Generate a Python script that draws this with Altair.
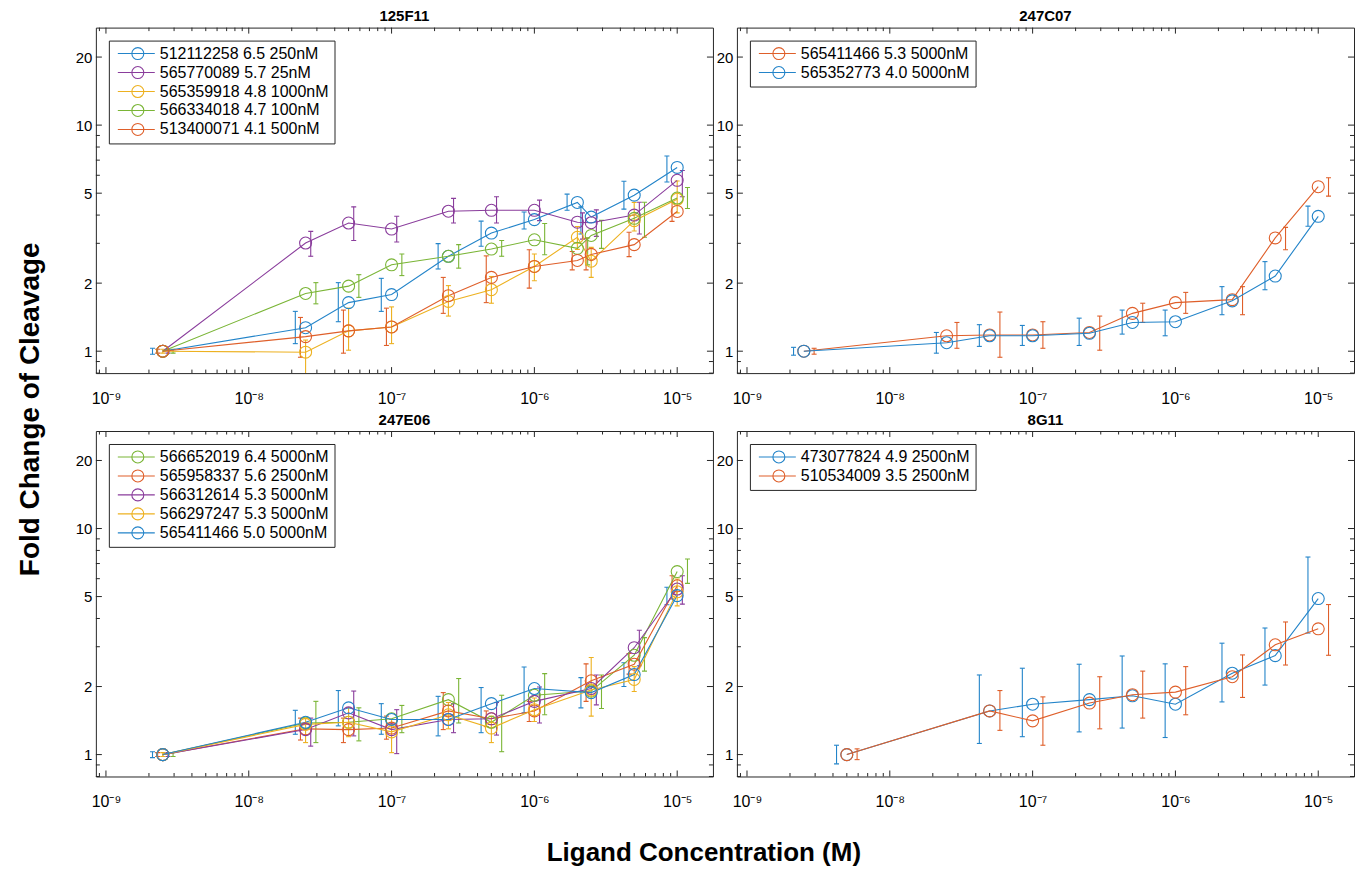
import altair as alt
import pandas as pd

FONT = "Liberation Sans"

# ---------------- data ----------------
X_125F11 = [2.5e-9, 2.5e-8, 5e-8, 1e-7, 2.5e-7, 5e-7, 1e-6, 2e-6, 2.5e-6, 5e-6, 1e-5]
S_512112258_Y = [1.00, 1.27, 1.64, 1.78, 2.63, 3.33, 3.82, 4.55, 3.92, 4.90, 6.50]
S_512112258_LO = [0.97, 1.08, 1.35, 1.50, 2.31, 2.91, 3.47, 4.20, 3.30, 4.25, 5.60]
S_512112258_HI = [1.03, 1.50, 2.01, 2.10, 2.99, 3.76, 4.13, 4.95, 4.35, 5.65, 7.30]
S_565770089_Y = [1.00, 3.01, 3.69, 3.47, 4.16, 4.20, 4.20, 3.72, 3.70, 4.00, 5.70]
S_565770089_LO = [0.98, 2.63, 3.09, 3.04, 3.69, 3.69, 3.78, 3.13, 3.22, 3.30, 4.82]
S_565770089_HI = [1.02, 3.39, 4.35, 3.95, 4.74, 4.82, 4.66, 4.09, 4.22, 4.56, 6.30]
S_565359918_Y = [1.00, 0.99, 1.23, 1.28, 1.66, 1.87, 2.37, 3.19, 2.50, 3.78, 4.70]
S_565359918_LO = [0.98, 0.70, 1.01, 1.08, 1.43, 1.63, 2.05, 2.82, 2.12, 3.40, 4.09]
S_565359918_HI = [1.02, 1.12, 1.55, 1.57, 1.95, 2.14, 2.69, 3.56, 2.88, 4.55, 5.66]
S_566334018_Y = [1.00, 1.80, 1.94, 2.41, 2.63, 2.83, 3.11, 2.85, 3.25, 3.87, 4.76]
S_566334018_LO = [0.98, 1.62, 1.73, 2.16, 2.33, 2.63, 2.67, 2.41, 2.85, 3.19, 4.28]
S_566334018_HI = [1.02, 2.01, 2.18, 2.69, 2.96, 3.09, 3.67, 3.17, 3.79, 4.56, 5.30]
S_513400071_Y = [1.00, 1.16, 1.23, 1.28, 1.76, 2.12, 2.37, 2.52, 2.68, 2.96, 4.15]
S_513400071_LO = [0.98, 0.94, 0.98, 1.06, 1.47, 1.64, 1.90, 2.29, 2.29, 2.62, 3.75]
S_513400071_HI = [1.02, 1.41, 1.52, 1.55, 2.12, 2.64, 2.81, 2.76, 3.16, 3.36, 4.56]

X_247C07 = [2.5e-9, 2.5e-8, 5e-8, 1e-7, 2.5e-7, 5e-7, 1e-6, 2.5e-6, 5e-6, 1e-5]
S_565411466a_Y = [1.00, 1.17, 1.18, 1.18, 1.21, 1.47, 1.64, 1.69, 3.17, 5.34]
S_565411466a_LO = [0.97, 1.03, 0.94, 1.03, 1.01, 1.34, 1.47, 1.45, 2.81, 4.85]
S_565411466a_HI = [1.03, 1.34, 1.49, 1.35, 1.43, 1.63, 1.82, 1.93, 3.53, 5.85]
S_565352773_Y = [1.00, 1.09, 1.17, 1.17, 1.20, 1.34, 1.35, 1.67, 2.15, 3.95]
S_565352773_LO = [0.96, 0.98, 1.05, 1.06, 1.06, 1.19, 1.17, 1.45, 1.87, 3.57]
S_565352773_HI = [1.04, 1.21, 1.31, 1.30, 1.40, 1.52, 1.52, 1.93, 2.49, 4.38]

X_247E06 = [2.5e-9, 2.5e-8, 5e-8, 1e-7, 2.5e-7, 5e-7, 1e-6, 2.5e-6, 5e-6, 1e-5]
S_566652019_Y = [1.00, 1.38, 1.39, 1.44, 1.75, 1.39, 1.83, 1.91, 2.75, 6.45]
S_566652019_LO = [0.98, 1.13, 1.15, 1.25, 1.38, 1.03, 1.50, 1.60, 2.34, 5.72]
S_566652019_HI = [1.02, 1.72, 1.61, 1.65, 2.17, 1.83, 2.28, 2.25, 3.29, 7.33]
S_565958337_Y = [1.00, 1.30, 1.29, 1.31, 1.56, 1.44, 1.56, 2.12, 2.51, 5.58]
S_565958337_LO = [0.98, 1.16, 1.13, 1.17, 1.29, 1.33, 1.40, 1.72, 2.27, 4.88]
S_565958337_HI = [1.02, 1.45, 1.45, 1.48, 1.88, 1.56, 1.72, 2.52, 2.80, 6.18]
S_566312614_Y = [1.00, 1.29, 1.53, 1.29, 1.43, 1.44, 1.72, 1.96, 2.97, 5.40]
S_566312614_LO = [0.98, 1.09, 1.21, 1.01, 1.25, 1.22, 1.38, 1.66, 2.47, 4.63]
S_566312614_HI = [1.02, 1.45, 1.91, 1.58, 1.68, 1.70, 1.99, 2.25, 3.55, 6.18]
S_566297247_Y = [1.00, 1.36, 1.39, 1.26, 1.50, 1.31, 1.58, 1.93, 2.15, 5.25]
S_566297247_LO = [0.98, 1.13, 1.20, 1.02, 1.30, 1.13, 1.40, 1.48, 1.90, 4.55]
S_566297247_HI = [1.02, 1.45, 1.61, 1.43, 1.70, 1.48, 1.78, 2.69, 2.45, 5.98]
S_565411466b_Y = [1.00, 1.39, 1.61, 1.43, 1.43, 1.68, 1.96, 1.88, 2.26, 5.05]
S_565411466b_LO = [0.97, 1.23, 1.34, 1.23, 1.21, 1.25, 1.53, 1.61, 2.00, 4.60]
S_565411466b_HI = [1.03, 1.57, 1.92, 1.68, 1.81, 1.98, 2.44, 2.19, 2.55, 5.50]

X_8G11 = [5e-9, 5e-8, 1e-7, 2.5e-7, 5e-7, 1e-6, 2.5e-6, 5e-6, 1e-5]
S_473077824_Y = [1.00, 1.56, 1.67, 1.75, 1.82, 1.67, 2.29, 2.74, 4.90]
S_473077824_LO = [0.91, 1.12, 1.20, 1.26, 1.31, 1.19, 1.71, 2.03, 3.45]
S_473077824_HI = [1.10, 2.25, 2.41, 2.51, 2.73, 2.52, 3.11, 3.63, 7.48]
S_510534009_Y = [1.00, 1.56, 1.41, 1.69, 1.84, 1.89, 2.21, 3.06, 3.60]
S_510534009_LO = [0.95, 1.28, 1.10, 1.30, 1.45, 1.50, 1.79, 2.49, 2.75]
S_510534009_HI = [1.06, 1.92, 1.80, 2.21, 2.34, 2.45, 2.76, 3.86, 4.61]

X_TICKS = [1e-9, 1e-8, 1e-7, 1e-6, 1e-5]
Y_TICKS = [1, 2, 5, 10, 20]
Y_MINOR = [0.8, 0.9, 3, 4, 6, 7, 8, 9]
X_MINOR = [k * 10.0 ** d for d in range(-10, -4) for k in range(2, 10)]

# ---------------- style ----------------
BLUE, ORANGE, YELLOW, PURPLE, GREEN = "#2384c9", "#df5f2a", "#EDB120", "#8a3d9c", "#7ab536"
XMIN, XMAX = 8.5e-10, 1.78e-5
YMIN, YMAX = 0.8, 27.0
W, H = 618, 346
DODGE = 0.036  # decades per slot for error-bar offset

PANELS = [
    ("125F11", X_125F11, [
        ("512112258 6.5 250nM", BLUE, -2, S_512112258_Y, S_512112258_LO, S_512112258_HI),
        ("565770089 5.7 25nM", PURPLE, 1, S_565770089_Y, S_565770089_LO, S_565770089_HI),
        ("565359918 4.8 1000nM", YELLOW, 0, S_565359918_Y, S_565359918_LO, S_565359918_HI),
        ("566334018 4.7 100nM", GREEN, 2, S_566334018_Y, S_566334018_LO, S_566334018_HI),
        ("513400071 4.1 500nM", ORANGE, -1, S_513400071_Y, S_513400071_LO, S_513400071_HI),
    ]),
    ("247C07", X_247C07, [
        ("565411466 5.3 5000nM", ORANGE, 2, S_565411466a_Y, S_565411466a_LO, S_565411466a_HI),
        ("565352773 4.0 5000nM", BLUE, -2, S_565352773_Y, S_565352773_LO, S_565352773_HI),
    ]),
    ("247E06", X_247E06, [
        ("566652019 6.4 5000nM", GREEN, 2, S_566652019_Y, S_566652019_LO, S_566652019_HI),
        ("565958337 5.6 2500nM", ORANGE, -1, S_565958337_Y, S_565958337_LO, S_565958337_HI),
        ("566312614 5.3 5000nM", PURPLE, 1, S_566312614_Y, S_566312614_LO, S_566312614_HI),
        ("566297247 5.3 5000nM", YELLOW, 0, S_566297247_Y, S_566297247_LO, S_566297247_HI),
        ("565411466 5.0 5000nM", BLUE, -2, S_565411466b_Y, S_565411466b_LO, S_565411466b_HI),
    ]),
    ("8G11", X_8G11, [
        ("473077824 4.9 2500nM", BLUE, -2, S_473077824_Y, S_473077824_LO, S_473077824_HI),
        ("510534009 3.5 2500nM", ORANGE, 2, S_510534009_Y, S_510534009_LO, S_510534009_HI),
    ]),
]

LEG_PATH = "M-0.67,0L5.5,0M3.67,0A1,1,0,1,1,1.67,0A1,1,0,1,1,3.67,0"

xscale = alt.Scale(type="log", domain=[XMIN, XMAX], nice=False)
yscale = alt.Scale(type="log", domain=[YMIN, YMAX], nice=False)
X_LABEL_EXPR = ("datum.value < 5e-9 ? '10⁻⁹' : datum.value < 5e-8 ? '10⁻⁸' : "
                "datum.value < 5e-7 ? '10⁻⁷' : datum.value < 5e-6 ? '10⁻⁶' : '10⁻⁵'")
xaxis = alt.Axis(values=X_TICKS, labelExpr=X_LABEL_EXPR, ticks=False, domain=False, grid=False,
                 labelFont=FONT, labelFontSize=16, labelColor="#000000", labelPadding=17,
                 labelFlush=False)
yaxis = alt.Axis(values=Y_TICKS, format="d", ticks=False, domain=False, grid=False,
                 labelFont=FONT, labelFontSize=15, labelColor="#000000", labelPadding=4)


def X(field):
    return alt.X(f"{field}:Q", scale=xscale, axis=xaxis, title=None)


def Y(field):
    return alt.Y(f"{field}:Q", scale=yscale, axis=yaxis, title=None)


def tick_layers():
    layers = []
    frame = "#262626"
    for vals, ln in ((X_TICKS, 6), (X_MINOR, 3.5)):
        d = pd.DataFrame({"v": [v for v in vals if XMIN <= v <= XMAX]})
        base = alt.Chart(d).mark_rule(color=frame, strokeWidth=1)
        layers.append(base.encode(x=X("v"), y=alt.value(H), y2=alt.value(H - ln)))
        layers.append(base.encode(x=X("v"), y=alt.value(0), y2=alt.value(ln)))
    for vals, ln in ((Y_TICKS, 6), (Y_MINOR, 4)):
        d = pd.DataFrame({"v": vals})
        base = alt.Chart(d).mark_rule(color=frame, strokeWidth=1)
        layers.append(base.encode(y=Y("v"), x=alt.value(0), x2=alt.value(ln)))
        layers.append(base.encode(y=Y("v"), x=alt.value(W), x2=alt.value(W - ln)))
    return layers


def make_panel(title, xs, series):
    rows = []
    for label, color, slot, ys, los, his in series:
        for xv, yv, lo, hi in zip(xs, ys, los, his):
            rows.append(dict(series=label, x=xv, y=yv, lo=lo, hi=hi,
                             xe=xv * 10 ** (slot * DODGE)))
    df = pd.DataFrame(rows)
    names = [s[0] for s in series]
    colors = [s[1] for s in series]
    cscale = alt.Scale(domain=names, range=colors)
    legend = alt.Legend(title=None, orient="top-left", offset=13, padding=5,
                        strokeColor="#262626", fillColor="white", cornerRadius=0,
                        labelFont=FONT, labelFontSize=16, labelColor="#000000",
                        labelLimit=500, symbolType=LEG_PATH, symbolSize=144,
                        symbolStrokeWidth=1.1, symbolFillColor="transparent",
                        labelOffset=30, rowPadding=1)
    color = alt.Color("series:N", scale=cscale, legend=legend)
    base = alt.Chart(df)
    err = base.mark_rule(strokeWidth=1.1, clip=True).encode(x=X("xe"), y=Y("lo"), y2="hi:Q", color=color)
    cap_lo = base.mark_point(shape="stroke", filled=False, size=25, strokeWidth=1.1, opacity=1,
                             clip=True).encode(x=X("xe"), y=Y("lo"), color=color)
    cap_hi = base.mark_point(shape="stroke", filled=False, size=25, strokeWidth=1.1, opacity=1,
                             clip=True).encode(x=X("xe"), y=Y("hi"), color=color)
    line = base.mark_line(strokeWidth=1.1, clip=True).encode(x=X("x"), y=Y("y"), color=color)
    pts = base.mark_point(filled=False, size=144, strokeWidth=1.1, opacity=1, clip=True).encode(
        x=X("x"), y=Y("y"), color=color)
    layers = tick_layers() + [err, cap_lo, cap_hi, line, pts]
    return alt.layer(*layers).properties(
        width=W, height=H,
        title=alt.Title(title, font=FONT, fontSize=15, fontWeight="bold", color="#000000", offset=3),
    )


p = [make_panel(*pp) for pp in PANELS]
grid = alt.concat(*p, columns=2, spacing={"row": 58, "column": 24}, bounds="flush").resolve_scale(
    color="independent").properties(
    title=alt.Title("Fold Change of Cleavage", orient="left", anchor="middle", font=FONT,
                    fontSize=28, fontWeight="bold", color="#000000", offset=30))
chart = alt.vconcat(grid).properties(
    title=alt.Title("Ligand Concentration (M)", orient="bottom", anchor="middle", font=FONT,
                    fontSize=26, fontWeight="bold", color="#000000", offset=30, dx=18)
).configure(padding={"left": 8, "top": 0, "right": 0, "bottom": 0}).configure_view(
    stroke="#262626", strokeWidth=1)

chart.save("out.html", embed_options={"renderer": "svg", "actions": False})
